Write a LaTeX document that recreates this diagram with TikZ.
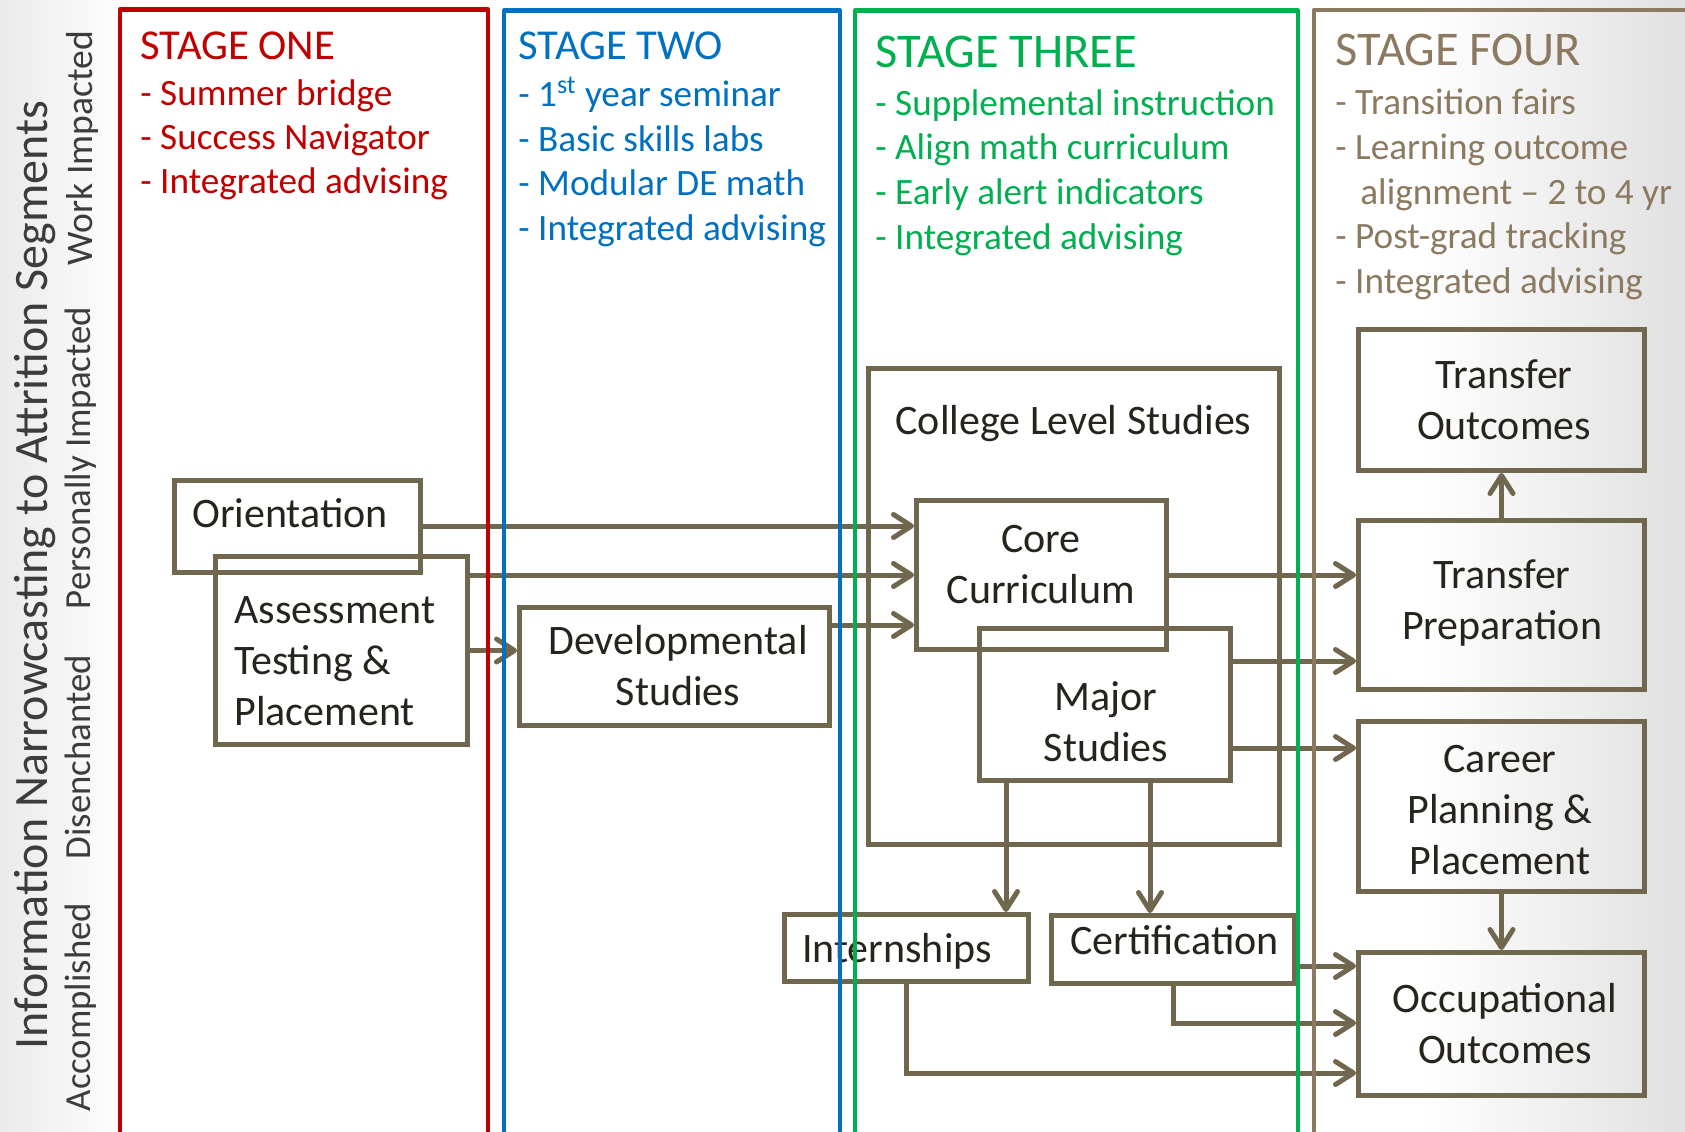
\documentclass[tikz,border=0pt]{standalone}
\usepackage{fontspec}
\setmainfont{Carlito}
\usetikzlibrary{arrows.meta}

\definecolor{stageRed}{RGB}{192,0,0}
\definecolor{stageBlue}{RGB}{0,112,192}
\definecolor{stageGreen}{RGB}{0,176,80}
\definecolor{stageTan}{RGB}{140,122,96}
\definecolor{flowLine}{RGB}{112,103,78}
\definecolor{flowText}{RGB}{38,36,28}
\definecolor{sideText}{RGB}{60,60,60}

\newcommand{\fsz}[2]{\fontsize{#1}{#2}\selectfont}

\begin{document}
\begin{tikzpicture}[x=0.5pt,y=-0.5pt,
  flowbox/.style 2 args={draw=flowLine,line width=2.5pt,minimum width=#1,minimum height=#2,inner sep=0pt},
  flowtext/.style={inner sep=0pt,text=flowText,font=\fsz{21pt}{25.5pt},align=center,anchor=base},
  flowarrow/.style={draw=flowLine,line width=2.5pt,-{Straight Barb[length=9pt,width=11.5pt,round]}},
  stageframe/.style={line width=2.3pt,line join=round},
  stgtitleA/.style={inner sep=0pt,anchor=base west,font=\fsz{21.3pt}{25pt}},
  stgtitleB/.style={inner sep=0pt,anchor=base west,font=\fsz{24.2pt}{28pt}},
  stgitem/.style={inner sep=0pt,anchor=base west,font=\fsz{18.6pt}{22pt}},
  sidelabel/.style={inner sep=0pt,anchor=base,rotate=90,text=sideText},
]
\useasboundingbox (0,0) rectangle (1685,1131);
\clip (0,0) rectangle (1685,1131);

% page background: white with a soft grey fade at both sides
\fill[white] (0,0) rectangle (1685,1131);
\shade[left color=black!8,right color=white] (0,0) rectangle (130,1131);
\shade[left color=white,right color=black!12] (1420,0) rectangle (1685,1131);

% process boxes
\node[flowbox={123pt}{46pt}] (orient) at (297,526) {};
\node[flowbox={126pt}{94pt}] (assess) at (341,650.5) {};
\node[flowbox={155pt}{59pt}] (devel) at (674.5,666.5) {};
\node[flowbox={205.5pt}{238pt}] (college) at (1074,606.5) {};
\node[flowbox={125pt}{74.5pt}] (core) at (1041.5,575) {};
\node[flowbox={125.5pt}{76pt}] (major) at (1105,704.5) {};
\node[flowbox={122pt}{33.5pt}] (intern) at (906.5,948) {};
\node[flowbox={121.5pt}{34pt}] (cert) at (1173,949.5) {};
\node[flowbox={143pt}{70.5pt}] (tout) at (1501.5,400) {};
\node[flowbox={143pt}{84.5pt}] (tprep) at (1501.5,605) {};
\node[flowbox={143pt}{85pt}] (career) at (1501.5,806.5) {};
\node[flowbox={143pt}{71.5pt}] (occ) at (1501.5,1024) {};

% box labels
\node[flowtext] (orientT) at (290,527) {Orientation};
\node[flowtext,anchor=base west,align=left] (assessT) at (234,725) {Assessment\\Testing \&\\Placement};
\node[flowtext] (develT) at (678,705) {Developmental\\Studies};
\node[flowtext] (collegeT) at (1073.5,434) {College Level Studies};
\node[flowtext] (coreT) at (1041,603) {Core\\Curriculum};
\node[flowtext] (majorT) at (1106,761) {Major\\Studies};
\node[flowtext] (internT) at (897,962) {Internships};
\node[flowtext] (certT) at (1174.5,954) {Certification};
\node[flowtext] (toutT) at (1504,439) {Transfer\\Outcomes};
\node[flowtext] (tprepT) at (1502,639) {Transfer\\Preparation};
\node[flowtext] (careerT) at (1500,874) {Career\\Planning \&\\Placement};
\node[flowtext] (occT) at (1505,1063) {Occupational\\Outcomes};

% connectors
\draw[flowarrow] (orient.east) -- (orient.east -| core.west);
\draw[flowarrow] (assess.east |- core.west) -- (core.west);
\draw[flowarrow] (assess.east) -- (assess.east -| devel.west);
\draw[flowarrow] (devel.east |- 0,625) -- (core.west |- 0,625);
\draw[flowarrow] (core.east) -- (core.east -| tprep.west);
\draw[flowarrow] (major.east |- 0,661) -- (tprep.west |- 0,661);
\draw[flowarrow] (major.east |- 0,748) -- (career.west |- 0,748);
\draw[flowarrow] (tprep.north) -- (tout.south);
\draw[flowarrow] (career.south) -- (occ.north);
\draw[flowarrow] (major.south -| 1006,0) -- (intern.north -| 1006,0);
\draw[flowarrow] (major.south -| 1150,0) -- (cert.north -| 1150,0);
\draw[flowarrow] (cert.east |- 0,966) -- (occ.west |- 0,966);
\draw[flowarrow] (cert.south) |- (occ.west |- 0,1023);
\draw[flowarrow] (intern.south) |- (occ.west |- 0,1073);

% stage one
\node[stgtitleA,text=stageRed] (s1t) at (140,59) {STAGE ONE};
\node[stgitem,text=stageRed] (s1a) at (140,105) {- Summer bridge};
\node[stgitem,text=stageRed] (s1b) at (140,149) {- Success Navigator};
\node[stgitem,text=stageRed] (s1c) at (140,193) {- Integrated advising};

% stage two
\node[stgtitleA,text=stageBlue] (s2t) at (518,59) {STAGE TWO};
\node[stgitem,text=stageBlue] (s2a) at (518,106) {- 1\textsuperscript{st} year seminar};
\node[stgitem,text=stageBlue] (s2b) at (518,151) {- Basic skills labs};
\node[stgitem,text=stageBlue] (s2c) at (518,195) {- Modular DE math};
\node[stgitem,text=stageBlue] (s2d) at (518,240) {- Integrated advising};

% stage three
\node[stgtitleB,text=stageGreen] (s3t) at (875,67) {STAGE THREE};
\node[stgitem,text=stageGreen] (s3a) at (875,115) {- Supplemental instruction};
\node[stgitem,text=stageGreen] (s3b) at (875,159) {- Align math curriculum};
\node[stgitem,text=stageGreen] (s3c) at (875,204) {- Early alert indicators};
\node[stgitem,text=stageGreen] (s3d) at (875,249) {- Integrated advising};

% stage four
\node[stgtitleB,text=stageTan] (s4t) at (1335,65) {STAGE FOUR};
\node[stgitem,text=stageTan] (s4a) at (1335,114) {- Transition fairs};
\node[stgitem,text=stageTan] (s4b) at (1335,159) {- Learning outcome};
\node[stgitem,text=stageTan] (s4c) at (1360,204) {alignment – 2 to 4 yr};
\node[stgitem,text=stageTan] (s4d) at (1335,248) {- Post-grad tracking};
\node[stgitem,text=stageTan] (s4e) at (1335,293) {- Integrated advising};

% side labels
\node[sidelabel,font=\fsz{24pt}{28pt}] (vmain) at (47,575) {Information Narrowcasting to Attrition Segments};
\node[sidelabel,font=\fsz{18.8pt}{24pt}] (vwork) at (92,148) {Work Impacted};
\node[sidelabel,font=\fsz{18.4pt}{22pt}] (vpers) at (90,458) {Personally Impacted};
\node[sidelabel,font=\fsz{18.4pt}{22pt}] (vdis) at (90,757) {Disenchanted};
\node[sidelabel,font=\fsz{18.4pt}{22pt}] (vacc) at (90,1007) {Accomplished};

% stage frames, open at the bottom, drawn over everything else
\draw[stageframe,stageRed] (120,1150) -- (120,9.5) -- (488,9.5) -- (488,1150);
\draw[stageframe,stageBlue] (504,1150) -- (504,10.5) -- (840,10.5) -- (840,1150);
\draw[stageframe,stageGreen] (855,1150) -- (855,10.5) -- (1298,10.5) -- (1298,1150);
\draw[stageframe,stageTan] (1314,1150) -- (1314,10) -- (1700,10);
\end{tikzpicture}
\end{document}
